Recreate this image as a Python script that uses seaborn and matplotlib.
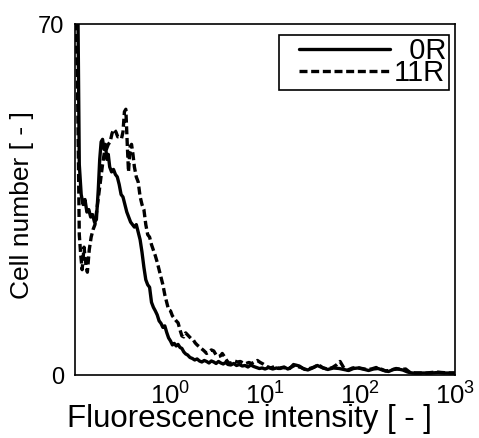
import matplotlib
matplotlib.use('Agg')
import matplotlib.pyplot as plt
import matplotlib.ticker as mticker
from matplotlib.legend_handler import HandlerLine2D
from matplotlib.lines import Line2D
import seaborn as sns
import numpy as np

# Histogram lines: log10(intensity) and cell counts
log_x_0r = [-1.0, -0.975, -0.955, -0.935, -0.915, -0.895, -0.875, -0.855, -0.835, -0.815,
            -0.795, -0.775, -0.755, -0.74, -0.725, -0.71, -0.695, -0.68, -0.665, -0.65,
            -0.635, -0.615, -0.595, -0.575, -0.555, -0.535, -0.515, -0.495, -0.475, -0.455,
            -0.435, -0.415, -0.395, -0.375, -0.355, -0.335, -0.315, -0.295, -0.275, -0.255,
            -0.235, -0.215, -0.195, -0.175, -0.155, -0.135, -0.115, -0.095, -0.075, -0.055,
            -0.035, -0.015, 0.005, 0.025, 0.045, 0.065, 0.085, 0.105, 0.125, 0.145,
            0.165, 0.185, 0.21, 0.235, 0.26, 0.285, 0.31, 0.335, 0.36, 0.385,
            0.41, 0.435, 0.46, 0.485, 0.51, 0.535, 0.56, 0.585, 0.61, 0.64,
            0.67, 0.70, 0.73, 0.76, 0.79, 0.82, 0.85, 0.88, 0.91, 0.94,
            0.97, 1.00, 1.04, 1.08, 1.12, 1.16, 1.20, 1.24, 1.28, 1.32,
            1.36, 1.40, 1.45, 1.50, 1.55, 1.60, 1.66, 1.72, 1.78, 1.83,
            1.88, 1.93, 1.98, 2.03, 2.09, 2.14, 2.19, 2.25, 2.30, 2.35,
            2.40, 2.45, 2.50, 2.55, 2.65, 2.75, 2.82, 2.90, 3.0]
count_0r = [95, 85, 42, 36, 34, 35, 32.5, 33, 31.5, 32,
            30.5, 31, 37, 43, 46.5, 47, 45, 46, 43, 44,
            41.5, 40.5, 41, 40, 39.5, 38, 36, 35.5, 34, 32.5,
            31.5, 30.5, 30, 29.5, 30, 28.5, 27, 24.5, 21.5, 19,
            18, 17.5, 14.5, 13.5, 12.8, 12, 10.8, 10.3, 9.5, 9.8,
            8.5, 7.4, 6.8, 6.0, 6.3, 5.8, 6.1, 5.5, 5.3, 4.6,
            4.2, 4.0, 3.5, 3.3, 3.0, 3.2, 2.8, 2.6, 2.9, 2.7,
            2.4, 2.8, 2.6, 2.3, 2.7, 2.4, 2.2, 2.5, 2.1, 2.0,
            2.3, 1.9, 2.1, 1.8, 1.9, 1.6, 2.0, 1.7, 1.5, 1.3,
            1.4, 1.2, 1.5, 1.2, 1.4, 1.3, 1.6, 1.2, 1.6, 2.0,
            1.8, 1.3, 1.0, 1.4, 1.9, 1.5, 1.1, 1.4, 1.3, 1.1,
            0.9, 1.3, 1.4, 1.2, 0.9, 1.2, 1.3, 0.9, 0.7, 1.1,
            1.2, 1.0, 0.6, 0.4, 0.4, 0.4, 0.5, 0.4, 0.4]

log_x_11r = [-1.0, -0.975, -0.955, -0.94, -0.925, -0.905, -0.885, -0.87, -0.85, -0.83,
             -0.81, -0.79, -0.77, -0.75, -0.73, -0.71, -0.69, -0.67, -0.65, -0.63,
             -0.61, -0.59, -0.57, -0.55, -0.53, -0.51, -0.495, -0.48, -0.465, -0.45,
             -0.437, -0.42, -0.405, -0.39, -0.375, -0.355, -0.335, -0.315, -0.295, -0.275,
             -0.255, -0.235, -0.215, -0.195, -0.175, -0.155, -0.135, -0.115, -0.095, -0.075,
             -0.055, -0.035, -0.015, 0.005, 0.025, 0.045, 0.065, 0.085, 0.105, 0.125,
             0.145, 0.165, 0.185, 0.205, 0.225, 0.245, 0.265, 0.285, 0.31, 0.335,
             0.36, 0.385, 0.41, 0.435, 0.46, 0.485, 0.51, 0.53, 0.55, 0.575,
             0.60, 0.625, 0.65, 0.68, 0.71, 0.74, 0.77, 0.80, 0.83, 0.86,
             0.89, 0.92, 0.95, 0.98, 1.02, 1.06, 1.10, 1.14, 1.18, 1.22,
             1.26, 1.30, 1.34, 1.38, 1.42, 1.47, 1.52, 1.56, 1.61, 1.66,
             1.71, 1.75, 1.79, 1.83, 1.87, 1.92, 1.97, 2.02, 2.07, 2.12,
             2.17, 2.22, 2.27, 2.33, 2.38, 2.43, 2.48, 2.52, 2.58, 2.70,
             2.80, 2.86, 2.95, 3.0]
count_11r = [80, 60, 28, 24, 21, 25.5, 22, 20.5, 25, 27.5,
             29, 30, 33, 36, 39, 42, 44.5, 45, 46, 46.5,
             48.2, 49, 48.5, 47.5, 47.5, 47.2, 48.5, 52.5, 53, 46,
             40.5, 45.5, 46, 44, 41.5, 39.5, 38.5, 35.6, 34, 33,
             30, 28, 27.5, 26, 24.9, 23.8, 22.5, 21, 19.5, 18,
             16, 14.5, 13, 12.8, 11.8, 11.3, 10.8, 10.4, 9, 7.8,
             7.6, 8.4, 8.0, 7.6, 7.2, 7.0, 6.4, 6.0, 5.6, 5.2,
             4.8, 4.3, 4.6, 5.0, 4.8, 4.0, 3.7, 3.8, 4.3, 3.6,
             2.8, 2.3, 2.5, 2.8, 2.6, 2.7, 2.4, 2.3, 2.5, 2.3,
             2.6, 2.9, 2.5, 2.2, 1.7, 1.4, 1.7, 1.3, 1.5, 1.4,
             1.3, 2.1, 1.7, 1.5, 1.1, 1.3, 1.6, 2.1, 1.4, 1.2,
             1.5, 2.0, 2.7, 1.4, 1.0, 1.4, 1.5, 1.3, 1.1, 1.2,
             1.5, 1.2, 0.8, 1.0, 1.3, 1.1, 1.2, 0.6, 0.4, 0.4,
             0.6, 0.5, 0.4, 0.4]

series_labels = ['0R', '11R']
x_major = [1, 10, 100, 1000]
y_ticks = [0, 10, 20, 30, 40, 50, 60, 70]
y_tick_labels = ['0', '', '', '', '', '', '', '70']


class LeadGapLine(HandlerLine2D):
    """Legend line that leaves an empty gap on the left side of the handle box."""
    def get_xdata(self, legend, xdescent, ydescent, width, height, fontsize):
        xdata, xdata_marker = super().get_xdata(legend, xdescent, ydescent, width, height, fontsize)
        xdata = np.array(xdata, dtype=float)
        xdata[0] += 0.62 * fontsize
        return xdata, xdata_marker


sns.set_style('white')
plt.rcParams['font.family'] = ['Liberation Sans', 'DejaVu Sans']
plt.rcParams['mathtext.fontset'] = 'custom'
plt.rcParams['mathtext.rm'] = 'Liberation Sans'
plt.rcParams['mathtext.it'] = 'Liberation Sans'
plt.rcParams['text.color'] = 'black'
plt.rcParams['axes.labelcolor'] = 'black'
plt.rcParams['xtick.color'] = 'black'
plt.rcParams['ytick.color'] = 'black'

fig = plt.figure(figsize=(4.79, 4.38), dpi=100)
ax = fig.add_axes([0.1566, 0.1438, 0.7934, 0.8014])

sns.lineplot(x=10 ** np.array(log_x_0r), y=count_0r, ax=ax, color='black',
             linewidth=2.4, sort=False)
sns.lineplot(x=10 ** np.array(log_x_11r), y=count_11r, ax=ax, color='black',
             linewidth=2.4, sort=False)
ax.lines[1].set_linestyle((0, (2.4, 1.1)))

ax.set_xscale('log')
ax.set_xlim(0.1, 1000)
ax.set_ylim(0, 70)

ax.xaxis.set_major_locator(mticker.FixedLocator(x_major))
ax.xaxis.set_minor_locator(mticker.LogLocator(base=10, subs=np.arange(2, 10), numticks=20))
ax.set_yticks(y_ticks)
ax.set_yticklabels(y_tick_labels)

ax.tick_params(axis='x', which='major', direction='out', length=3, width=1, pad=2,
               labelsize=18.5)
ax.tick_params(axis='x', which='minor', direction='out', length=2, width=0.8)
ax.tick_params(axis='y', direction='in', length=3, width=1, pad=8, labelsize=17)

for side in ['left', 'right', 'top', 'bottom']:
    ax.spines[side].set_color('black')
    ax.spines[side].set_linewidth(1.2)

ax.set_xlabel('Fluorescence intensity [ - ]', fontsize=22.5)
ax.set_ylabel('Cell number [ - ]', fontsize=19)
ax.xaxis.set_label_coords(0.46, -0.083, transform=ax.transAxes)
ax.xaxis.label.set_va('top')
ax.yaxis.set_label_coords(-0.108, 0.484, transform=ax.transAxes)

# figure space before "0R" so both labels end at the same place, as in the original
leg_labels = ['\u2007' + series_labels[0], series_labels[1]]
leg = ax.legend(ax.lines[:2], leg_labels, loc='upper right',
                bbox_to_anchor=(0.984, 0.969), borderaxespad=0,
                fontsize=21, handlelength=3.75, handletextpad=0.1,
                labelspacing=-0.2, borderpad=0.08, fancybox=False,
                framealpha=1, edgecolor='black',
                handler_map={Line2D: LeadGapLine()})
leg.get_frame().set_linewidth(1.2)

fig.savefig('out.png', dpi=100)
plt.close(fig)
